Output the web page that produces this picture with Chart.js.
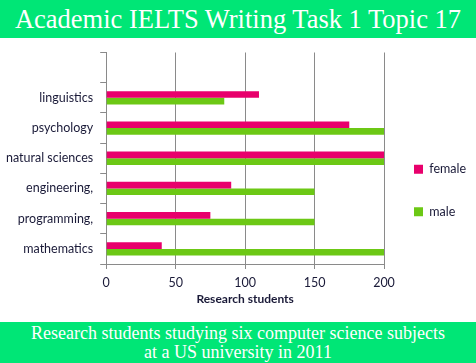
<!DOCTYPE html>
<html>
<head>
<meta charset="utf-8">
<script src="https://cdn.jsdelivr.net/npm/chart.js@4/dist/chart.umd.min.js"></script>
<style>
  html, body { margin: 0; padding: 0; background: #fff; }
  body { width: 476px; height: 363px; position: relative; overflow: hidden; }
  .banner { position: absolute; left: 0; width: 476px; background: #00e676; color: #fff;
            font-family: "Liberation Serif", "DejaVu Serif", serif; text-align: center; }
  #top { top: 0; height: 38px; font-size: 26.5px; line-height: 38px; }
  #bottom { top: 322px; height: 41px; font-size: 18px; line-height: 19px; padding-top: 2px; box-sizing: border-box; }
  #wrap { position: absolute; left: 0; top: 38px; width: 476px; height: 284px; }
</style>
</head>
<body>
<div class="banner" id="top">Academic IELTS Writing Task 1 Topic 17</div>
<div id="wrap"><canvas id="chart" width="476" height="284"></canvas></div>
<div class="banner" id="bottom">Research students studying six computer science subjects<br>at a US university in 2011</div>
<script>
const categories = ['', 'linguistics', 'psychology', 'natural sciences', 'engineering,', 'programming,', 'mathematics'];
const female = [null, 110, 175, 200, 90, 75, 40];
const male = [null, 85, 200, 200, 150, 150, 200];
const xTicks = [0, 50, 100, 150, 200];

const textColor = '#1a1a38';
const gridColor = '#8a8a8a';

const ctx = document.getElementById('chart').getContext('2d');
new Chart(ctx, {
  type: 'bar',
  data: {
    labels: categories,
    datasets: [
      {
        label: 'female',
        data: female,
        backgroundColor: '#e8006c',
        categoryPercentage: 0.44,
        barPercentage: 1.0
      },
      {
        label: 'male',
        data: male,
        backgroundColor: '#6cc815',
        categoryPercentage: 0.44,
        barPercentage: 1.0
      }
    ]
  },
  options: {
    indexAxis: 'y',
    responsive: false,
    animation: false,
    layout: { padding: { top: 12, left: -1, right: 0, bottom: 17 } },
    scales: {
      x: {
        min: 0,
        max: 200,
        afterBuildTicks: axis => { axis.ticks = xTicks.map(v => ({ value: v })); },
        grid: { color: gridColor, tickLength: 5 },
        border: { color: gridColor },
        ticks: { color: textColor, font: { family: 'Lato', size: 12.5 }, padding: 6 },
        title: {
          display: true,
          text: 'Research students',
          color: textColor,
          font: { family: 'Lato', size: 12, weight: 'bold', lineHeight: 1 },
          padding: { top: -3, bottom: 0 }
        }
      },
      y: {
        grid: { drawOnChartArea: false, color: gridColor, tickLength: 6 },
        border: { color: gridColor },
        ticks: { color: textColor, font: { family: 'Lato', size: 12.5 }, padding: 7 }
      }
    },
    plugins: {
      legend: {
        position: 'right',
        maxWidth: 92,
        title: { display: true, text: ' ', font: { size: 10 }, padding: 7 },
        labels: {
          color: textColor,
          font: { family: 'Lato', size: 12.5 },
          boxWidth: 9,
          boxHeight: 9,
          padding: 30
        }
      },
      tooltip: { enabled: false }
    }
  }
});
</script>
</body>
</html>
